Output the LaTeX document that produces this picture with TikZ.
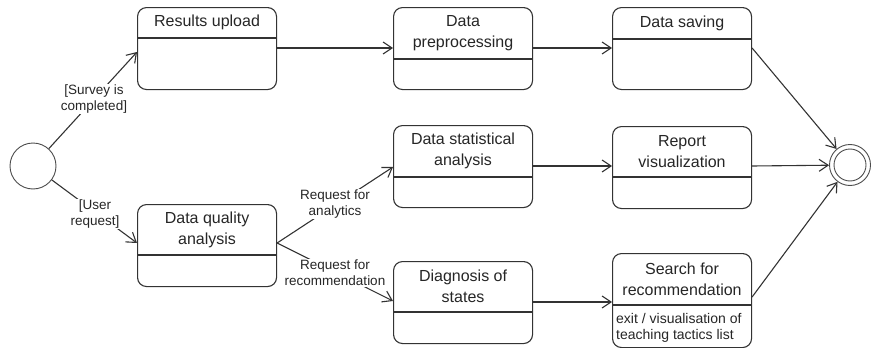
\documentclass[tikz,border=0pt]{standalone}
\usepackage{fontspec}
\setmainfont{Liberation Sans}
\usetikzlibrary{arrows.meta,calc}
\newcommand\statebox[6]{%
  \node[box, minimum height=#4pt] (#1) at (#2,#3) {};
  \draw[divline] ([yshift=-#5pt]#1.north west) -- ([yshift=-#5pt]#1.north east);
  \node[ttl] (#1-t) at ($(#1.north)+(0,#5/2)$) {#6};
}
\begin{document}
\begin{tikzpicture}[x=1pt,y=-1pt,
  box/.style={draw=black!80, line width=1.1pt, rounded corners=9pt, fill=white,
              minimum width=139pt, anchor=north west, inner sep=0pt},
  divline/.style={draw=black!80, line width=1.1pt},
  ttl/.style={align=center, font=\fontsize{16}{21}\selectfont, inner sep=0pt, text=black!85},
  lbl/.style={align=center, font=\fontsize{13.5}{16}\selectfont, fill=white, inner sep=1pt, text=black!85},
  arr/.style={line width=1.1pt, draw=black!80,
              -{Straight Barb[length=9pt,width=12pt,line width=1.1pt]}},
]
\useasboundingbox (0,0) rectangle (871,348);

% states
\statebox{ru}{137}{7}{82}{31}{Results upload}
\statebox{dq}{137}{204}{82}{51}{Data quality\\analysis}
\statebox{dp}{393}{7}{82}{52}{Data\\preprocessing}
\statebox{ds}{393}{125}{82}{52}{Data statistical\\analysis}
\statebox{dg}{393}{261}{82}{51}{Diagnosis of\\states}
\statebox{sv}{612}{7}{82}{32}{Data saving}
\statebox{rv}{612}{126}{82}{51}{Report\\visualization}
\statebox{sr}{612}{253}{94}{52}{Search for\\recommendation}
\node[anchor=west, align=left, font=\fontsize{14}{16}\selectfont, inner sep=0pt, text=black!85]
  (sr-x) at (616,328) {exit / visualisation of\\teaching tactics list};

% initial and final states
\node[circle, draw=black!70, line width=0.9pt, minimum size=46pt, inner sep=0pt] (init) at (33,166) {};
\node[circle, draw=black!70, line width=0.9pt, minimum size=41pt, inner sep=0pt] (fin) at (850,165) {};
\node[circle, draw=black!70, line width=0.9pt, minimum size=32pt, inner sep=0pt] (fin-in) at (850,165) {};

% transitions
\draw[arr] (init) -- ([yshift=-45pt]ru.north west);
\node[lbl] (l1) at (94,99) {[Survey is\\completed]};
\draw[arr] (init) -- ([yshift=-39pt]dq.north west);
\node[lbl] (l2) at (95,214) {[User\\request]};

\draw[arr] ([yshift=-41pt]ru.north east) -- ([yshift=-41pt]dp.north west);
\draw[arr] ([yshift=-41pt]dp.north east) -- ([yshift=-41pt]sv.north west);
\draw[arr] ([yshift=-41pt]sv.north east) -- (fin);

\draw[arr] ([yshift=-39pt]dq.north east) -- ([yshift=-42pt]ds.north west);
\node[lbl] (l3) at (335,204) {Request for\\analytics};
\draw[arr] ([yshift=-39pt]dq.north east) -- ([yshift=-40pt]dg.north west);
\node[lbl] (l4) at (335,273) {Request for\\recommendation};

\draw[arr] ([yshift=-41pt]ds.north east) -- ([yshift=-40pt]rv.north west);
\draw[arr] ([yshift=-40pt]rv.north east) -- (fin);
\draw[arr] ([yshift=-41pt]dg.north east) -- ([yshift=-49pt]sr.north west);
\draw[arr] ([yshift=-44pt]sr.north east) -- (fin);
\end{tikzpicture}
\end{document}
